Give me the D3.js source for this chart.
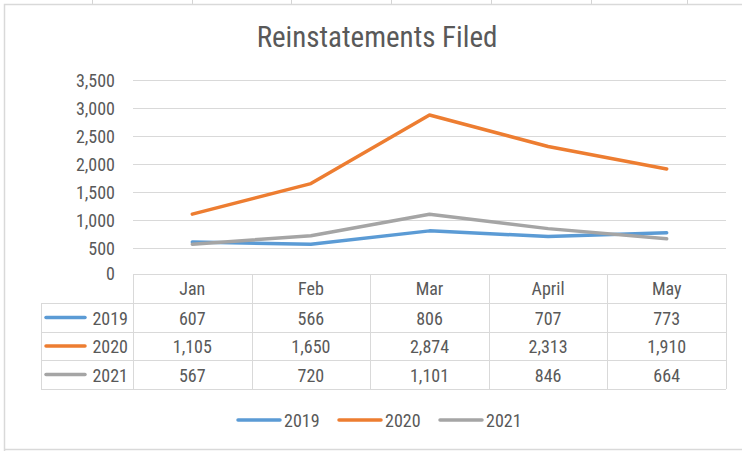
<!DOCTYPE html>
<html>
<head>
<meta charset="utf-8">
<title>Reinstatements Filed</title>
<style>
  body { margin: 0; background: #fff; }
  svg text { font-family: "Liberation Sans Narrow", "Roboto Condensed", "Liberation Sans", sans-serif; fill: #595959; }
</style>
<script src="https://d3js.org/d3.v7.min.js"></script>
</head>
<body>
<svg id="chart" width="742" height="451"></svg>
<script>
// data
const months = ["Jan", "Feb", "Mar", "April", "May"];
const years = ["2019", "2020", "2021"];
const v2019 = [607, 566, 806, 707, 773];
const v2020 = [1105, 1650, 2874, 2313, 1910];
const v2021 = [567, 720, 1101, 846, 664];
const yTicks = [0, 500, 1000, 1500, 2000, 2500, 3000, 3500];
const colors = ["#5B9BD5", "#ED7D31", "#A5A5A5"];

const series = years.map((y, i) => ({ name: y, values: [v2019, v2020, v2021][i], color: colors[i] }));

const svg = d3.select("#chart");
const fmt = d3.format(",");
const fs = 18;

// spreadsheet cell lines peeking out above the chart
svg.selectAll("line.cell")
  .data([92, 192, 291, 391, 491, 591, 687])
  .enter().append("line")
  .attr("x1", d => d + 0.5).attr("x2", d => d + 0.5)
  .attr("y1", 0).attr("y2", 4)
  .attr("stroke", "#d4d4d4");

// chart frame
svg.append("path")
  .attr("d", "M4.5,451 V4.5 H742 M4.5,449.5 H742")
  .attr("fill", "none")
  .attr("stroke", "#d9d9d9")
  .attr("stroke-width", 1.5);

svg.append("text")
  .attr("x", 377).attr("y", 47)
  .attr("text-anchor", "middle")
  .attr("font-size", 29)
  .text("Reinstatements Filed");

const x = d3.scaleBand().domain(months).range([133, 726]);
const y = d3.scaleLinear().domain([0, 3500]).range([276, 80]);

// gridlines
svg.append("g")
  .selectAll("line")
  .data(yTicks.filter(d => d > 0))
  .enter().append("line")
  .attr("x1", 133).attr("x2", 726)
  .attr("y1", d => Math.round(y(d)) + 0.5)
  .attr("y2", d => Math.round(y(d)) + 0.5)
  .attr("stroke", "#d9d9d9");

// y axis labels
const yAxis = svg.append("g")
  .attr("transform", "translate(133,0)")
  .call(d3.axisLeft(y).tickValues(yTicks).tickFormat(fmt).tickSize(0).tickPadding(18));
yAxis.select(".domain").remove();
yAxis.selectAll("text").attr("font-size", fs).attr("fill", "#595959").attr("dy", "0.34em");
yAxis.selectAll(".tick").filter(d => d === 0).select("text").attr("dy", "0.22em");

// lines
const line = d3.line()
  .x((d, i) => x(months[i]) + x.bandwidth() / 2)
  .y(d => y(d));

svg.append("g")
  .selectAll("path")
  .data(series)
  .enter().append("path")
  .attr("d", d => line(d.values))
  .attr("fill", "none")
  .attr("stroke", d => d.color)
  .attr("stroke-width", 3.5)
  .attr("stroke-linejoin", "round")
  .attr("stroke-linecap", "round");

// data table
const rowTops = [274, 303, 332, 360, 389];
const tbl = svg.append("g").attr("stroke", "#d9d9d9").attr("fill", "none");
rowTops.forEach((ry, i) => {
  tbl.append("line")
    .attr("x1", i === 0 ? 133 : 41).attr("x2", 726)
    .attr("y1", ry + 0.5).attr("y2", ry + 0.5);
});
const colEdges = months.map(m => x(m)).concat([x.range()[1]]);
colEdges.forEach(cx => {
  tbl.append("line")
    .attr("x1", Math.round(cx) + 0.5).attr("x2", Math.round(cx) + 0.5)
    .attr("y1", 274).attr("y2", 389);
});
tbl.append("line").attr("x1", 41.5).attr("x2", 41.5).attr("y1", 303).attr("y2", 389);

// header labels
svg.append("g")
  .selectAll("text")
  .data(months)
  .enter().append("text")
  .attr("x", d => x(d) + x.bandwidth() / 2)
  .attr("y", 295)
  .attr("text-anchor", "middle")
  .attr("font-size", fs)
  .text(d => d);

// rows
series.forEach((s, i) => {
  const cy = (rowTops[i + 1] + rowTops[i + 2]) / 2;
  const g = svg.append("g");
  g.append("line")
    .attr("x1", 46).attr("x2", 85)
    .attr("y1", cy).attr("y2", cy)
    .attr("stroke", s.color).attr("stroke-width", 3.5).attr("stroke-linecap", "round");
  g.append("text")
    .attr("x", 128).attr("y", cy + 7)
    .attr("text-anchor", "end")
    .attr("font-size", fs)
    .text(s.name);
  g.selectAll("text.val")
    .data(s.values)
    .enter().append("text")
    .attr("class", "val")
    .attr("x", (d, j) => x(months[j]) + x.bandwidth() / 2)
    .attr("y", cy + 7)
    .attr("text-anchor", "middle")
    .attr("font-size", fs)
    .text(d => fmt(d));
});

// legend
const legX = [237, 338, 439];
const leg = svg.append("g")
  .selectAll("g")
  .data(series)
  .enter().append("g")
  .attr("transform", (d, i) => `translate(${legX[i]},420)`);
leg.append("line")
  .attr("x1", 1).attr("x2", 43)
  .attr("stroke", d => d.color).attr("stroke-width", 3.5).attr("stroke-linecap", "round");
leg.append("text")
  .attr("x", 47).attr("y", 6.5)
  .attr("font-size", fs)
  .text(d => d.name);
</script>
</body>
</html>
